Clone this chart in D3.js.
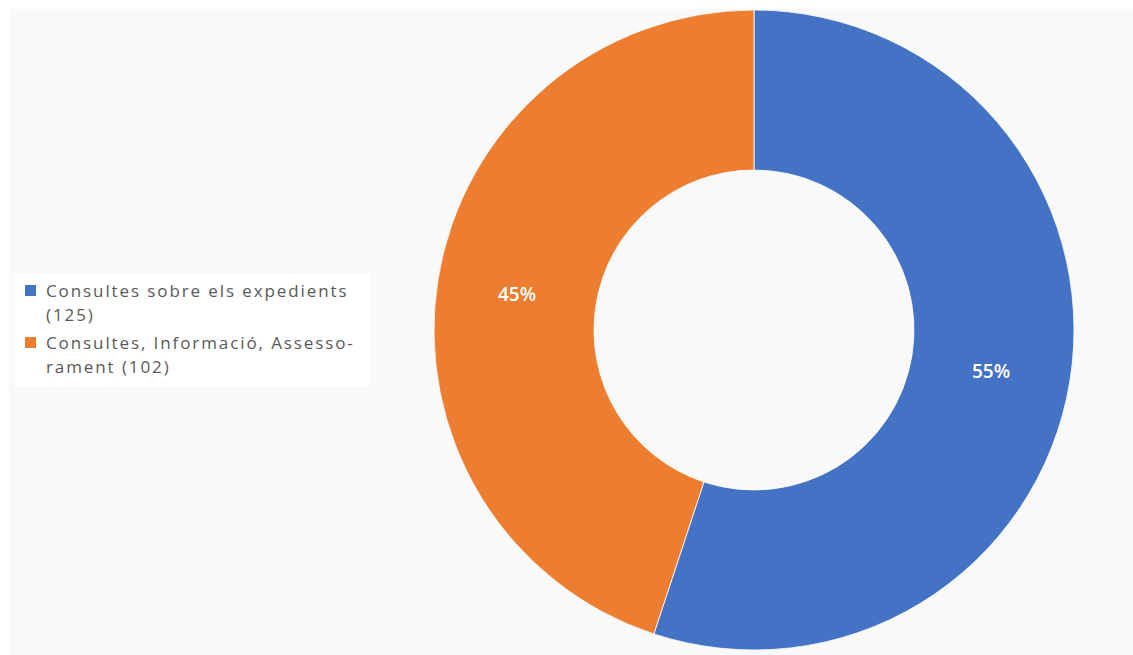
<!DOCTYPE html>
<html>
<head>
<meta charset="utf-8">
<script src="https://cdn.jsdelivr.net/npm/d3@7/dist/d3.min.js"></script>
<style>
  body { margin: 0; background: #fff; }
  svg { display: block; }
</style>
</head>
<body>
<div id="chart"></div>
<script>
const categories = ["Consultes sobre els expedients", "Consultes, Informació, Assessorament"];
const legendLines = [["Consultes sobre els expedients", "(125)"], ["Consultes, Informació, Assesso-", "rament (102)"]];
const values = [125, 102];
const colors = ["#4472C4", "#ED7D31"];

const width = 1133, height = 655;
const cx = 754, cy = 330, outerR = 320, innerR = 160;

const svg = d3.select("#chart").append("svg")
    .attr("width", width)
    .attr("height", height);

// light panel
svg.append("rect")
    .attr("x", 9).attr("y", 9)
    .attr("width", width - 9).attr("height", height - 9)
    .attr("fill", "#f9f9f9");

const pie = d3.pie().sort(null).value(d => d);
const arcs = pie(values);
const total = d3.sum(values);

const arc = d3.arc().innerRadius(innerR).outerRadius(outerR);
const labelArc = d3.arc().innerRadius((innerR + outerR) / 2).outerRadius((innerR + outerR) / 2);

const g = svg.append("g").attr("transform", `translate(${cx},${cy})`);

g.selectAll("path.slice")
    .data(arcs)
    .enter().append("path")
    .attr("class", "slice")
    .attr("d", arc)
    .attr("fill", (d, i) => colors[i])
    .attr("stroke", "#fff")
    .attr("stroke-width", 0.8);

g.selectAll("text.pct")
    .data(arcs)
    .enter().append("text")
    .attr("class", "pct")
    .attr("transform", d => `translate(${labelArc.centroid(d)})`)
    .attr("text-anchor", "middle")
    .attr("dy", "0.5em")
    .attr("fill", "#fff")
    .style("font-family", "'Open Sans', sans-serif")
    .style("font-size", "19px")
    .style("font-weight", "600")
    .text(d => Math.round(d.value / total * 100) + "%");

// legend
svg.append("rect")
    .attr("x", 15).attr("y", 274)
    .attr("width", 355).attr("height", 112)
    .attr("fill", "#fff");

const legend = svg.append("g").attr("transform", "translate(25,285)");
const itemY = d3.scalePoint().domain(categories).range([0, 52]);

const items = legend.selectAll("g.item")
    .data(categories)
    .enter().append("g")
    .attr("class", "item")
    .attr("transform", d => `translate(0,${itemY(d)})`);

items.append("rect")
    .attr("width", 11).attr("height", 11)
    .attr("fill", (d, i) => colors[i]);

items.each(function (d, i) {
    const t = d3.select(this).append("text")
        .attr("x", 21)
        .attr("y", 12)
        .attr("fill", "#595959")
        .style("font-family", "'Open Sans', sans-serif")
        .style("font-size", "17px")
        .style("letter-spacing", "1.9px");
    legendLines[i].forEach((line, j) => {
        t.append("tspan").attr("x", 21).attr("dy", j === 0 ? 0 : 23.5).text(line);
    });
});
</script>
</body>
</html>
